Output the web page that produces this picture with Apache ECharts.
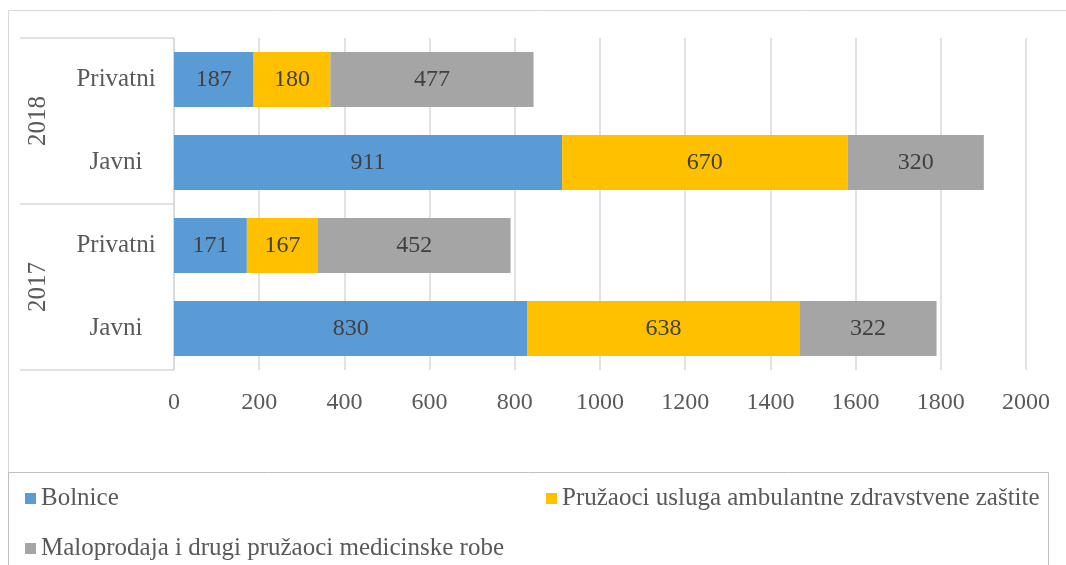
<!DOCTYPE html>
<html>
<head>
<meta charset="utf-8">
<script src="https://cdn.jsdelivr.net/npm/echarts@6/dist/echarts.min.js"></script>
<style>
  html, body { margin: 0; padding: 0; background: #fff; }
  #chart { width: 1066px; height: 565px; }
</style>
</head>
<body>
<div id="chart"></div>
<script>
// data (bottom to top, as the category axis runs)
var years = ['2017', '2018'];
var sectors = ['Javni', 'Privatni'];
var seriesNames = ['Bolnice', 'Pružaoci usluga ambulantne zdravstvene zaštite', 'Maloprodaja i drugi pružaoci medicinske robe'];
var bolnice = [830, 171, 911, 187];
var ambulantne = [638, 167, 670, 180];
var maloprodaja = [322, 452, 320, 477];
var xTicks = { min: 0, max: 2000, step: 200 };

var categories = [];
years.forEach(function (y) {
  sectors.forEach(function (s) { categories.push(y + '|' + s); });
});

var font = '"Liberation Serif", "Times New Roman", serif';
var colors = ['#5B9BD5', '#FFC000', '#A5A5A5'];
var values = [bolnice, ambulantne, maloprodaja];

var chart = echarts.init(document.getElementById('chart'));

var series = values.map(function (vals, i) {
  return {
    name: seriesNames[i],
    type: 'bar',
    stack: 'total',
    data: vals,
    barCategoryGap: '34%',
    itemStyle: { color: colors[i] },
    label: {
      show: true,
      position: 'inside',
      color: '#404040',
      fontFamily: font,
      fontSize: 24
    }
  };
});

function legendFor(idx, left, top) {
  return {
    data: [seriesNames[idx]],
    left: left,
    top: top,
    icon: 'rect',
    itemWidth: 11,
    itemHeight: 11,
    textStyle: { color: '#595959', fontFamily: font, fontSize: 25 }
  };
}

chart.setOption({
  animation: false,
  textStyle: { fontFamily: font },
  grid: { left: 174, right: 40, top: 38, bottom: 195 },
  graphic: [
    {
      type: 'rect',
      shape: { x: 8.5, y: 10.5, width: 1100, height: 600 },
      style: { fill: null, stroke: '#d9d9d9', lineWidth: 1 },
      silent: true
    },
    {
      type: 'rect',
      shape: { x: 8.5, y: 472.5, width: 1040, height: 120 },
      style: { fill: '#fff', stroke: '#bfbfbf', lineWidth: 1 },
      silent: true
    }
  ],
  legend: [
    legendFor(0, 20, 481),
    legendFor(1, 541, 481),
    legendFor(2, 20, 531)
  ],
  xAxis: {
    type: 'value',
    min: xTicks.min,
    max: xTicks.max,
    interval: xTicks.step,
    axisLine: { show: false },
    axisTick: { show: false },
    splitLine: { lineStyle: { color: '#d9d9d9', width: 1.5 } },
    axisLabel: {
      color: '#595959',
      fontFamily: font,
      fontSize: 24,
      margin: 21,
      formatter: function (v) { return String(v); }
    }
  },
  yAxis: [
    {
      type: 'category',
      data: categories,
      axisLine: { lineStyle: { color: '#d9d9d9', width: 1.5 } },
      axisTick: { show: false },
      axisLabel: {
        color: '#595959',
        fontFamily: font,
        fontSize: 25,
        align: 'center',
        margin: 58,
        formatter: function (v) { return v.split('|')[1]; }
      }
    },
    {
      type: 'category',
      position: 'left',
      data: years,
      axisLine: { show: false },
      axisTick: { show: true, length: 154, lineStyle: { color: '#d9d9d9', width: 1.5 } },
      splitLine: { show: false },
      axisLabel: {
        color: '#595959',
        fontFamily: font,
        fontSize: 25,
        rotate: 90,
        align: 'center',
        verticalAlign: 'middle',
        margin: 136
      }
    }
  ],
  series: series
});
</script>
</body>
</html>
